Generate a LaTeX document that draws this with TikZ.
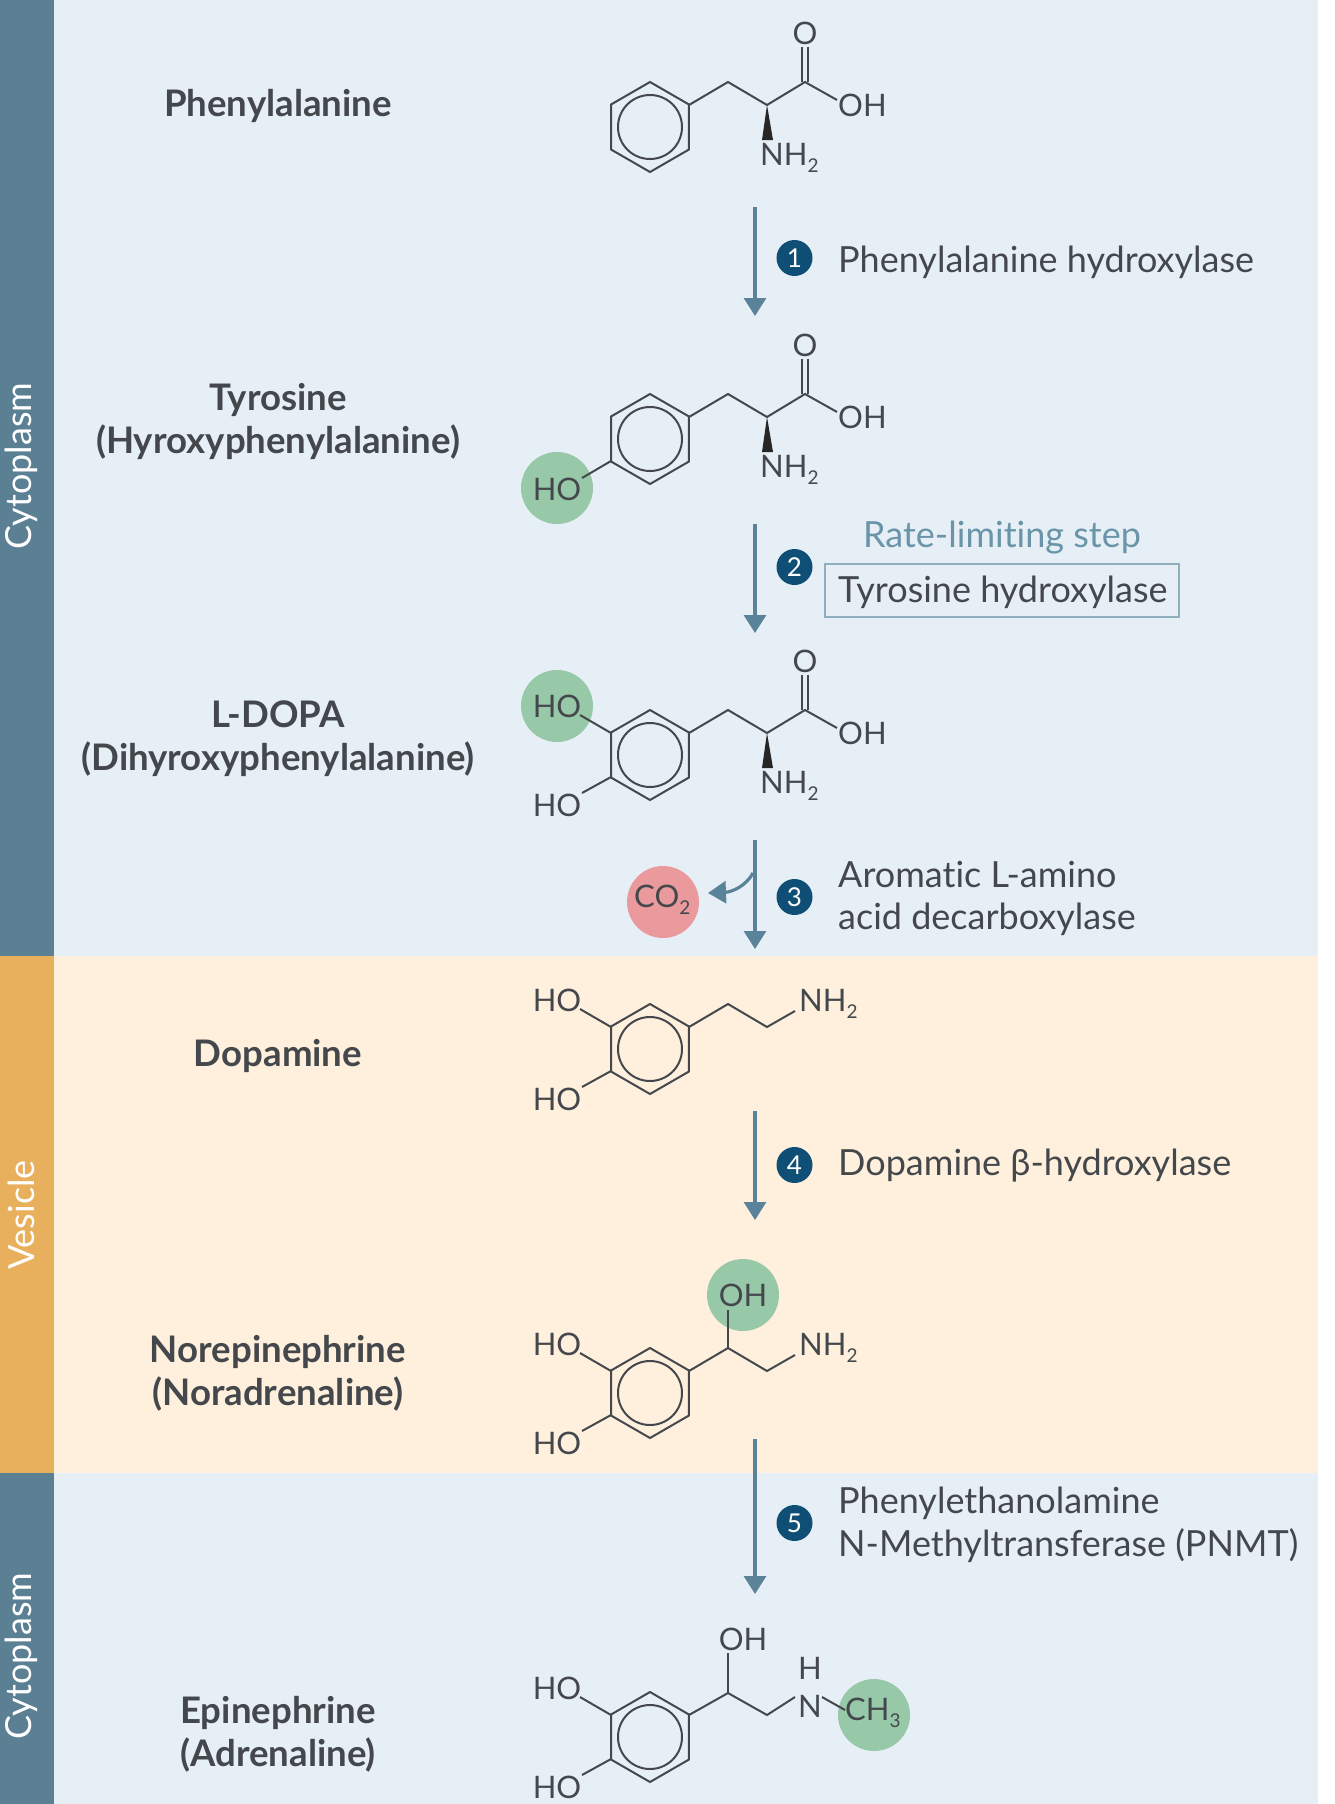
\documentclass[tikz,border=0pt]{standalone}
\usepackage{fontspec}
\setmainfont{Lato}[Ligatures=NoCommon]
\usetikzlibrary{arrows.meta}
\definecolor{cytoband}{HTML}{5B7F93}
\definecolor{vesband}{HTML}{E8B05C}
\definecolor{cytobg}{HTML}{E7EFF6}
\definecolor{vesbg}{HTML}{FEF0DC}
\definecolor{flowcol}{HTML}{5A8299}
\definecolor{dotcol}{HTML}{0F4F75}
\definecolor{inkcol}{HTML}{44484C}
\definecolor{ratecol}{HTML}{6A95A9}
\definecolor{boxcol}{HTML}{8FAFBC}
\definecolor{greenspot}{HTML}{97C9A9}
\definecolor{redspot}{HTML}{EA9A9C}
\newcommand{\lowidx}[1]{\raisebox{-7pt}{\fontsize{19}{19}\selectfont #1}}
\tikzset{
	bond/.style={draw=inkcol,line width=2pt},
	chem/.style={text=inkcol,font=\fontsize{31}{36}\selectfont,inner sep=0pt,anchor=base},
	chemw/.style={chem,anchor=base west},
	enzyme/.style={text=inkcol,font=\fontsize{36}{43}\selectfont,inner sep=0pt,anchor=mid west},
	compound/.style={text=inkcol,font=\fontsize{36.6}{43}\selectfont\bfseries,inner sep=0pt,align=center},
	side/.style={text=white,font=\fontsize{36}{43}\selectfont,rotate=90,inner sep=0pt},
	numdot/.style={circle,fill=dotcol,text=white,minimum size=36pt,inner sep=0pt,font=\fontsize{26}{26}\selectfont},
	flow/.style={draw=flowcol,line width=3.2pt,-{Triangle[width=22pt,length=18pt]}},
	ring/.pic={
		\draw[bond] (30:45)--(90:45)--(150:45)--(210:45)--(270:45)--(330:45)--cycle;
		\draw[bond] (0,0) circle (32);
	},
	acid/.pic={
		\draw[bond] (39,-22)--(78,-45)--(117,-22)--(155,-45)--(187,-27);
		\draw[bond] (152,-45)--(152,-80) (158,-45)--(158,-80);
		\fill[black!85] (117,-22)--(112,13)--(123,13)--cycle;
		\node[chem] (-o) at (155,-83) {O};
		\node[chemw] (-oh) at (188,-11) {OH};
		\node[chemw] (-nh) at (110,38) {NH\lowidx{2}};
	},
	diol/.pic={
		\draw[bond] (-39,-22)--(-70,-40) (-39,22)--(-68,38);
		\node[chem] (-upper) at (-93,-38) {HO};
		\node[chem] (-lower) at (-93,61) {HO};
	}
}
\begin{document}
\begin{tikzpicture}[x=1pt,y=-1pt]
	\useasboundingbox (0,0) rectangle (1334,1804);
	% bands
	\fill[cytobg] (54,0) rectangle (1318,956);
	\fill[vesbg] (54,956) rectangle (1318,1473);
	\fill[cytobg] (54,1473) rectangle (1318,1804);
	\fill[cytoband] (0,0) rectangle (54,956);
	\fill[vesband] (0,956) rectangle (54,1473);
	\fill[cytoband] (0,1473) rectangle (54,1804);
	\node[side] (cyto1) at (21,466) {Cytoplasm};
	\node[side] (ves) at (21,1215) {Vesicle};
	\node[side] (cyto2) at (21,1656) {Cytoplasm};
	% compound names
	\node[compound] (phe) at (278,106) {Phenylalanine};
	\node[compound] (tyr) at (278,421) {Tyrosine\\(Hyroxyphenylalanine)};
	\node[compound] (dopa) at (278,739) {L-DOPA\\(Dihyroxyphenylalanine)};
	\node[compound] (dop) at (278,1056) {Dopamine};
	\node[compound] (nor) at (278,1373) {Norepinephrine\\(Noradrenaline)};
	\node[compound] (epi) at (278,1734) {Epinephrine\\(Adrenaline)};
	% highlights
	\fill[greenspot] (557,488) circle (36);
	\fill[greenspot] (557,706) circle (36);
	\fill[greenspot] (743,1295) circle (36);
	\fill[greenspot] (874,1715) circle (36);
	\fill[redspot] (663,902) circle (36);
	% phenylalanine
	\pic at (650,127) {ring};
	\pic (m1) at (650,127) {acid};
	% tyrosine
	\pic at (650,439) {ring};
	\pic (m2) at (650,439) {acid};
	\draw[bond] (611,461)--(582,478);
	\node[chem] (m2ho) at (557,500) {HO};
	% l-dopa
	\pic at (650,755) {ring};
	\pic (m3) at (650,755) {acid};
	\pic (m3d) at (650,755) {diol};
	% dopamine
	\pic at (650,1049) {ring};
	\pic (m4d) at (650,1049) {diol};
	\draw[bond] (689,1027)--(728,1004)--(767,1027)--(795,1011);
	\node[chemw] (m4n) at (799,1011) {NH\lowidx{2}};
	% norepinephrine
	\pic at (650,1393) {ring};
	\pic (m5d) at (650,1393) {diol};
	\draw[bond] (689,1371)--(728,1348)--(767,1371)--(795,1355);
	\draw[bond] (728,1348)--(728,1310);
	\node[chem] (m5oh) at (743,1306) {OH};
	\node[chemw] (m5n) at (799,1355) {NH\lowidx{2}};
	% epinephrine
	\pic at (650,1737) {ring};
	\pic (m6d) at (650,1737) {diol};
	\draw[bond] (689,1715)--(728,1693)--(767,1715)--(795,1697);
	\draw[bond] (728,1693)--(728,1653);
	\draw[bond] (822,1697)--(845,1710);
	\node[chem] (m6oh) at (743,1650) {OH};
	\node[chem] (m6h) at (810,1679) {H};
	\node[chem] (m6n) at (810,1717) {N};
	\node[chemw] (m6c) at (845,1720) {CH\lowidx{3}};
	% reactions
	\coordinate (s1) at (755,207); \coordinate (e1) at (755,316);
	\coordinate (s2) at (755,524); \coordinate (e2) at (755,633);
	\coordinate (s3) at (755,840); \coordinate (e3) at (755,949);
	\coordinate (s4) at (755,1111); \coordinate (e4) at (755,1220);
	\coordinate (s5) at (755,1439); \coordinate (e5) at (755,1594);
	\coordinate (b3) at (753,873); \coordinate (c3) at (708,893);
	\draw[flow] (s1)--(e1);
	\draw[flow] (s2)--(e2);
	\draw[flow] (s3)--(e3);
	\draw[flow] (s4)--(e4);
	\draw[flow] (s5)--(e5);
	\draw[flow] (b3) .. controls (746,886) and (732,892) .. (c3);
	\node[chemw] (co) at (634,907) {CO\lowidx{2}};
	\node[numdot] (n1) at (794.5,258) {1};
	\node[numdot] (n2) at (794.5,567) {2};
	\node[numdot] (n3) at (794.5,897) {3};
	\node[numdot] (n4) at (794.5,1165) {4};
	\node[numdot] (n5) at (794.5,1523) {5};
	\node[enzyme] (hyd1) at (838,270) {Phenylalanine hydroxylase};
	\node[enzyme,text=ratecol,anchor=mid] (rate) at (1002,545) {Rate-limiting step};
	\node[enzyme] (hyd2) at (838,600) {Tyrosine hydroxylase};
	\draw[draw=boxcol,line width=2pt] (825,564) rectangle (1179,617);
	\node[enzyme] (dec1) at (838,885) {Aromatic L-amino};
	\node[enzyme] (dec2) at (838,927) {acid decarboxylase};
	\node[enzyme] (hyd4) at (838,1173) {Dopamine β-hydroxylase};
	\node[enzyme] (pnmt1) at (838,1511) {Phenylethanolamine};
	\node[enzyme] (pnmt2) at (838,1554) {N-Methyltransferase (PNMT)};
\end{tikzpicture}
\end{document}
